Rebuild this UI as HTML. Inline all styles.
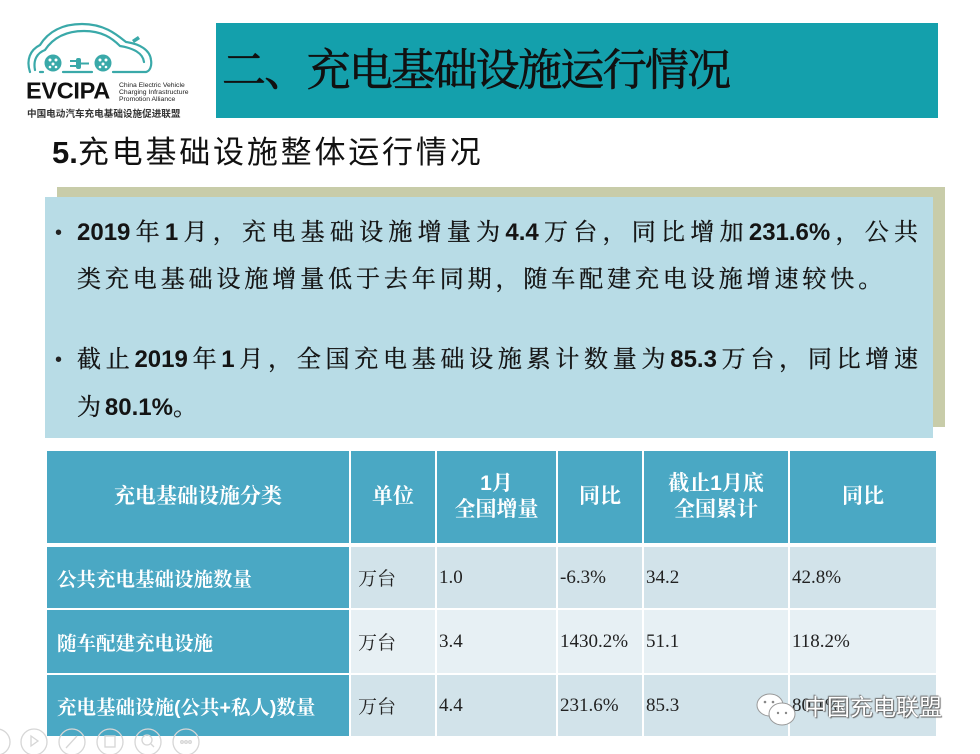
<!DOCTYPE html>
<html><head><meta charset="utf-8">
<style>
html,body{margin:0;padding:0;}
body{width:980px;height:754px;position:relative;overflow:hidden;background:#fff;font-family:"Liberation Serif","Noto Serif CJK SC",serif;}
.abs{position:absolute;}
.tb{position:absolute;left:216px;top:23px;width:722px;height:95px;background:#14a0ac;}
.tbt{position:absolute;left:222px;top:44px;font-family:"Liberation Serif","Noto Serif CJK SC",serif;font-size:44px;line-height:54px;letter-spacing:-1.7px;color:#111;white-space:nowrap;-webkit-text-stroke:0.7px #111;}
.sec{position:absolute;left:52px;top:134px;font-family:"Liberation Sans","Noto Sans CJK SC",sans-serif;font-size:31px;line-height:38px;color:#111;white-space:nowrap;letter-spacing:2.8px;}
.sec b{font-weight:700;letter-spacing:0;}
.olive{position:absolute;left:57px;top:187px;width:888px;height:240px;background:#c8cca9;}
.blue{position:absolute;left:45px;top:197px;width:888px;height:241px;background:#b8dce6;}
.ln{position:absolute;left:77px;font-family:"Liberation Sans","Noto Serif CJK SC",serif;font-size:24px;line-height:30px;color:#141414;white-space:nowrap;-webkit-text-stroke:0.3px #141414;}
.ln b{font-family:"Liberation Sans",sans-serif;font-weight:700;-webkit-text-stroke:0;}
.j{width:841px;text-align:justify;text-align-last:justify;text-justify:inter-character;}
.bul{position:absolute;left:55px;font-size:20px;line-height:30px;color:#222;font-family:"Liberation Sans",sans-serif;}
.c{position:absolute;box-sizing:border-box;}
.h{background:#4aa8c4;color:#fff;font-family:"Liberation Sans","Noto Serif CJK SC",serif;font-weight:700;font-size:21px;line-height:26px;display:flex;align-items:center;justify-content:center;text-align:center;}
.f{background:#4aa8c4;color:#fff;font-family:"Liberation Sans","Noto Serif CJK SC",serif;font-weight:700;font-size:19.5px;display:flex;align-items:center;padding-left:10px;white-space:nowrap;}
.d{font-family:"Liberation Serif","Noto Serif CJK SC",serif;font-size:19px;color:#222;display:flex;align-items:center;padding-left:2px;white-space:nowrap;}
.r1{background:#d2e3ea;}
.r2{background:#e7f0f4;}
.wm{position:absolute;left:804px;top:692px;font-family:"Liberation Sans","Noto Sans CJK SC",sans-serif;font-size:23px;line-height:30px;color:#fff;text-shadow:0 0 1px #555,1px 1px 1px #666,-1px -1px 1px #777;white-space:nowrap;}
</style></head>
<body>
<!-- logo -->
<svg class="abs" style="left:0;top:0" width="215" height="125" viewBox="0 0 215 125">
  <g fill="none" stroke="#3aa9a9" stroke-width="2.2" stroke-linecap="round">
    <path d="M30 72 C26 60 30 50 40 45 C48 32 62 24 82 24 C104 24 116 34 126 42 C140 44 150 50 151 60 C152 66 150 71 146 72 L113 72"/>
    <path d="M35 70 C33 60 37 53 45 50 C53 38 66 31 84 31 C102 31 112 38 120 46 C133 48 143 53 144 62"/>
    <path d="M40 72 L43 72"/>
    <path d="M63 72 L92 72"/>
  </g>
  <circle cx="53" cy="63" r="8.5" fill="#3aa9a9"/>
  <circle cx="103" cy="63" r="8.5" fill="#3aa9a9"/>
  <g fill="#fff">
    <circle cx="50" cy="60" r="1.5"/><circle cx="56" cy="60" r="1.5"/><circle cx="53" cy="64" r="1.5"/><circle cx="50" cy="67" r="1.3"/><circle cx="56" cy="67" r="1.3"/>
    <circle cx="100" cy="60" r="1.5"/><circle cx="106" cy="60" r="1.5"/><circle cx="103" cy="64" r="1.5"/><circle cx="100" cy="67" r="1.3"/><circle cx="106" cy="67" r="1.3"/>
  </g>
  <g fill="#3aa9a9">
    <rect x="70" y="60" width="6" height="2"/><rect x="70" y="65" width="6" height="2"/>
    <rect x="76" y="58" width="5" height="11" rx="2"/>
    <rect x="81" y="62.5" width="8" height="2"/>
    <path d="M132 40 l6 -4 l2 3 l-6 4z"/>
  </g>
  <text x="26" y="98.5" font-family="Liberation Sans, sans-serif" font-weight="700" font-size="23.5" fill="#111" letter-spacing="-0.3">EVCIPA</text>
  <text x="119" y="87" font-family="Liberation Sans, sans-serif" font-size="6.8" fill="#222">China Electric Vehicle</text>
  <text x="119" y="94" font-family="Liberation Sans, sans-serif" font-size="6.8" fill="#222">Charging Infrastructure</text>
  <text x="119" y="101" font-family="Liberation Sans, sans-serif" font-size="6.8" fill="#222">Promotion Alliance</text>
  <text x="27" y="117" font-family="Noto Sans CJK SC, sans-serif" font-weight="700" font-size="9.6" fill="#333">中国电动汽车充电基础设施促进联盟</text>
</svg>

<div class="tb"></div>
<div class="tbt">二、充电基础设施运行情况</div>

<div class="sec"><b>5.</b>充电基础设施整体运行情况</div>

<div class="olive"></div>
<div class="blue"></div>

<div class="bul" style="top:218px">•</div>
<div class="ln j" style="top:218px"><b>2019</b>年<b>1</b>月，充电基础设施增量为<b>4.4</b>万台，同比增加<b>231.6%</b>，公共</div>
<div class="ln" style="top:265px;letter-spacing:3.9px">类充电基础设施增量低于去年同期，随车配建充电设施增速较快。</div>
<div class="bul" style="top:345px">•</div>
<div class="ln j" style="top:345px">截止<b>2019</b>年<b>1</b>月，全国充电基础设施累计数量为<b>85.3</b>万台，同比增速</div>
<div class="ln" style="top:393px;letter-spacing:3.9px">为<b style="letter-spacing:0">80.1%</b>。</div>

<!-- table header -->
<div class="c h" style="left:47px;top:451px;width:302px;height:92px;">充电基础设施分类</div>
<div class="c h" style="left:351px;top:451px;width:84px;height:92px;">单位</div>
<div class="c h" style="left:437px;top:451px;width:119px;height:92px;">1月<br>全国增量</div>
<div class="c h" style="left:558px;top:451px;width:84px;height:92px;">同比</div>
<div class="c h" style="left:644px;top:451px;width:144px;height:92px;">截止1月底<br>全国累计</div>
<div class="c h" style="left:790px;top:451px;width:146px;height:92px;">同比</div>

<!-- row 1 -->
<div class="c f" style="left:47px;top:547px;width:302px;height:61px;">公共充电基础设施数量</div>
<div class="c d r1" style="left:351px;top:547px;width:84px;height:61px;padding-left:7px;">万台</div>
<div class="c d r1" style="left:437px;top:547px;width:119px;height:61px;">1.0</div>
<div class="c d r1" style="left:558px;top:547px;width:84px;height:61px;">-6.3%</div>
<div class="c d r1" style="left:644px;top:547px;width:144px;height:61px;">34.2</div>
<div class="c d r1" style="left:790px;top:547px;width:146px;height:61px;">42.8%</div>

<!-- row 2 -->
<div class="c f" style="left:47px;top:610px;width:302px;height:63px;">随车配建充电设施</div>
<div class="c d r2" style="left:351px;top:610px;width:84px;height:63px;padding-left:7px;">万台</div>
<div class="c d r2" style="left:437px;top:610px;width:119px;height:63px;">3.4</div>
<div class="c d r2" style="left:558px;top:610px;width:84px;height:63px;">1430.2%</div>
<div class="c d r2" style="left:644px;top:610px;width:144px;height:63px;">51.1</div>
<div class="c d r2" style="left:790px;top:610px;width:146px;height:63px;">118.2%</div>

<!-- row 3 -->
<div class="c f" style="left:47px;top:675px;width:302px;height:61px;">充电基础设施(公共+私人)数量</div>
<div class="c d r1" style="left:351px;top:675px;width:84px;height:61px;padding-left:7px;">万台</div>
<div class="c d r1" style="left:437px;top:675px;width:119px;height:61px;">4.4</div>
<div class="c d r1" style="left:558px;top:675px;width:84px;height:61px;">231.6%</div>
<div class="c d r1" style="left:644px;top:675px;width:144px;height:61px;">85.3</div>
<div class="c d r1" style="left:790px;top:675px;width:146px;height:61px;">80.1%</div>

<!-- bottom-left toolbar icons -->
<svg class="abs" style="left:0;top:726px" width="210" height="28" viewBox="0 726 210 28">
  <g fill="none" stroke="#d6d6d6" stroke-width="1.3">
    <circle cx="-3" cy="742" r="13"/>
    <circle cx="34" cy="742" r="13"/>
    <circle cx="72" cy="742" r="13"/>
    <circle cx="110" cy="742" r="13"/>
    <circle cx="148" cy="742" r="13"/>
    <circle cx="186" cy="742" r="13"/>
    <path d="M31 736 L38 741 L31 746 Z"/>
    <path d="M66 748 L77 736"/>
    <rect x="105" y="736" width="10" height="11"/>
    <circle cx="147" cy="740" r="5"/><path d="M151 744 L154 747"/>
    <circle cx="182" cy="742" r="1.3"/><circle cx="186" cy="742" r="1.3"/><circle cx="190" cy="742" r="1.3"/>
  </g>
</svg>

<!-- watermark -->
<svg class="abs" style="left:755px;top:692px" width="45" height="36" viewBox="0 0 45 36">
  <ellipse cx="15" cy="13" rx="13" ry="11" fill="#fff" stroke="#999" stroke-width="1"/>
  <ellipse cx="27" cy="22" rx="13" ry="11" fill="#fff" stroke="#999" stroke-width="1"/>
  <circle cx="10" cy="10" r="1.3" fill="#888"/><circle cx="18" cy="10" r="1.3" fill="#888"/>
  <circle cx="23" cy="21" r="1.2" fill="#888"/><circle cx="31" cy="21" r="1.2" fill="#888"/>
</svg>
<div class="wm">中国充电联盟</div>
</body></html>
